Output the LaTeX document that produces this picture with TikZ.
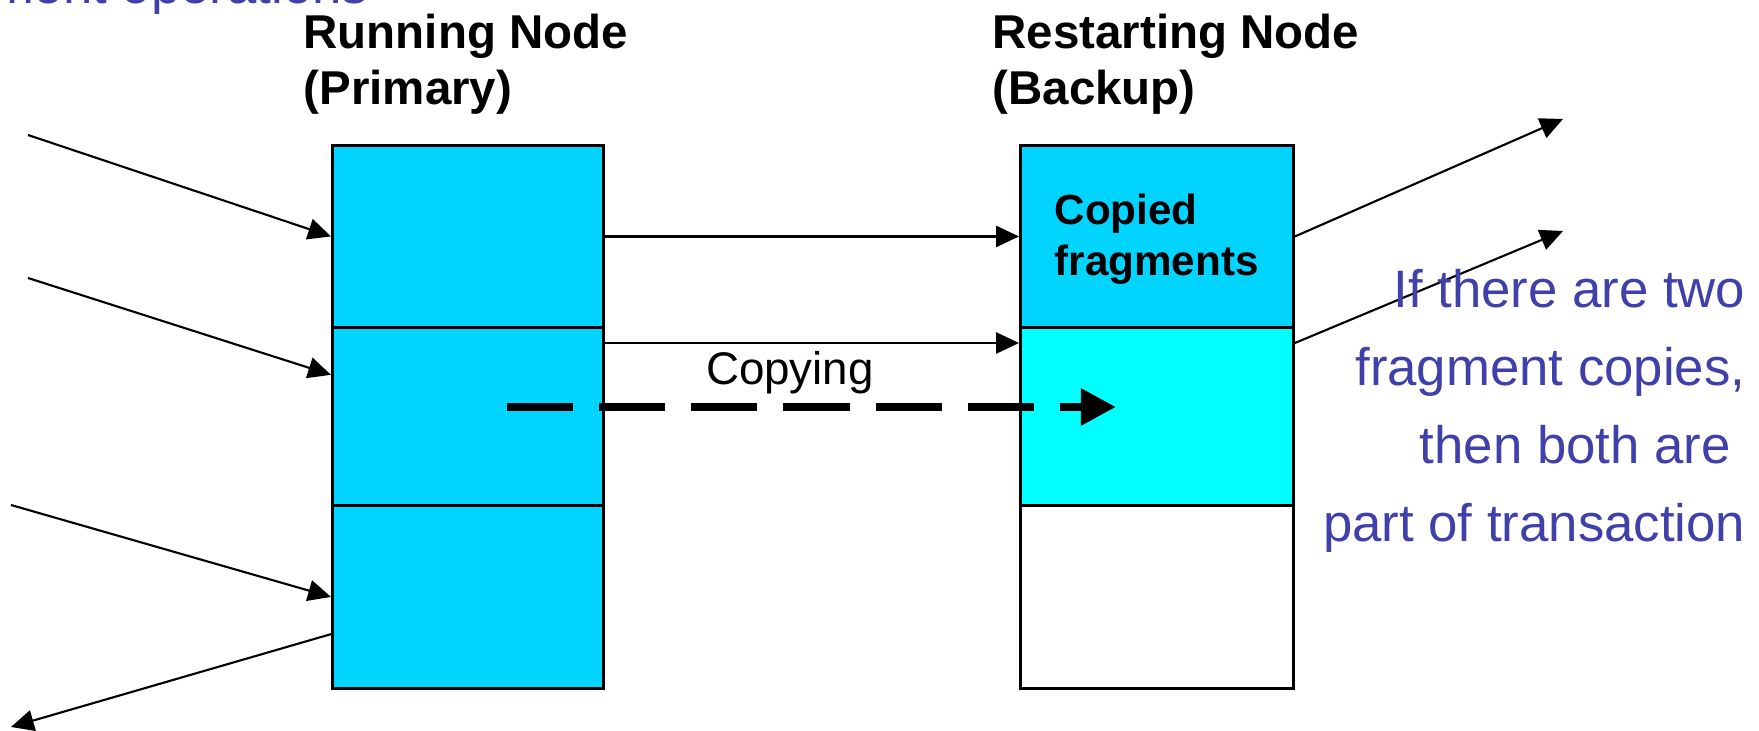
\documentclass[tikz,border=0pt]{standalone}
\usepackage{fontspec}
\setmainfont{Liberation Sans}
\usetikzlibrary{arrows.meta,calc}
\definecolor{boxblue}{RGB}{0,212,255}
\definecolor{boxcyan}{RGB}{0,255,255}
\definecolor{noteblue}{RGB}{64,64,170}
\begin{document}
\begin{tikzpicture}[x=0.01cm,y=-0.01cm,
  sect/.style={draw=black, line width=0.8pt, inner sep=0pt, anchor=north west},
  arr/.style={line width=0.6pt, -{Triangle[length=6.5pt,width=6pt]}},
  bigdash/.style={line width=2.4pt, dash pattern=on 18.8pt off 7.4pt, -{Triangle[length=10pt,width=10pt]}},
  title/.style={anchor=base west, inner sep=0pt, align=left, font=\fontsize{13.5}{16.2}\selectfont\bfseries},
  note/.style={inner sep=0pt, text=noteblue, font=\fontsize{15}{22.2}\selectfont}]
\useasboundingbox (0,0) rectangle (1759,731);

% top-left cut text
\node[note, anchor=base east] (cut) at (369,4) {ment operations};

% titles
\node[title] (tprim) at (303,105) {Running Node\\(Primary)};
\node[title] (tback) at (992,105) {Restarting Node\\(Backup)};

% primary node boxes
\node[sect, fill=boxblue, minimum width=2.71cm, minimum height=1.82cm] (p1) at (331,144) {};
\node[sect, fill=boxblue, minimum width=2.71cm, minimum height=1.78cm] (p2) at (331,326) {};
\node[sect, fill=boxblue, minimum width=2.71cm, minimum height=1.83cm] (p3) at (331,504) {};

% backup node boxes
\node[sect, fill=boxblue, minimum width=2.73cm, minimum height=1.82cm] (b1) at (1019,144) {};
\node[sect, fill=boxcyan, minimum width=2.73cm, minimum height=1.78cm] (b2) at (1019,326) {};
\node[sect, fill=white, minimum width=2.73cm, minimum height=1.83cm] (b3) at (1019,504) {};

\node[anchor=base west, inner sep=0pt, align=left, font=\fontsize{12}{14.5}\selectfont\bfseries] (cf) at (1054,276) {Copied\\fragments};

% incoming arrows
\coordinate (i1) at (28,135);
\coordinate (i2) at (28,278);
\coordinate (i3) at (11,505);
\coordinate (o1) at (11,727);
\draw[arr] (i1) -- (p1.west);
\draw[arr] (i2) -- ($(p2.north west)!0.27!(p2.south west)$);
\draw[arr] (i3) -- (p3.west);
\draw[arr] ($(p3.north west)!0.70!(p3.south west)$) -- (o1);

% horizontal copies
\draw[arr] (p1.east) -- (b1.west);
\draw[arr] ($(p2.north east)+(0,17)$) -- ($(b2.north west)+(0,17)$);

% outgoing arrows
\coordinate (r1) at (1563,119);
\coordinate (r2) at (1563,231);
\draw[arr] (b1.east) -- (r1);
\draw[arr] ($(b2.north east)+(0,17)$) -- (r2);

% copying
\node[anchor=base, inner sep=0pt, font=\fontsize{13}{16}\selectfont] (cp) at (790,385) {Copying};
\coordinate (ds) at (507,407);
\coordinate (de) at (1116,407);
\draw[bigdash] (ds) -- (de);

% note
\node[note, anchor=base east, align=right] (nt) at (1746,542) {If there are two\\fragment copies,\\\hbox{then both are\ }\\part of transaction};
\end{tikzpicture}
\end{document}
